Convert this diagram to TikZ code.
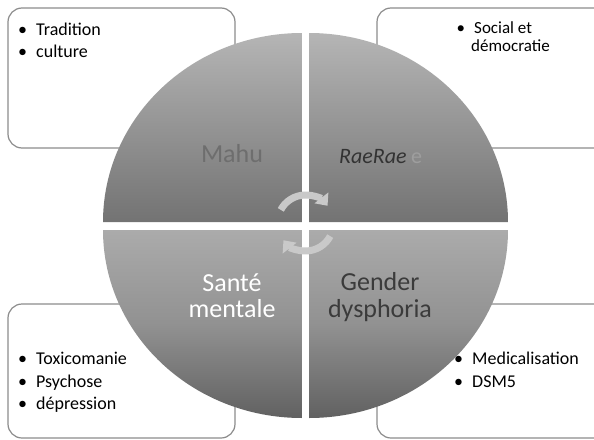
\documentclass[tikz,border=0pt]{standalone}
\usepackage{fontspec}
\setmainfont{Carlito}
\usetikzlibrary{arrows.meta}

\definecolor{boxline}{gray}{0.55}
\definecolor{uptop}{gray}{0.71}
\definecolor{upmid}{gray}{0.58}
\definecolor{upbot}{gray}{0.45}
\definecolor{lotop}{gray}{0.67}
\definecolor{lomid}{gray}{0.57}
\definecolor{lobot}{gray}{0.38}
\definecolor{arrowgray}{gray}{0.79}
\definecolor{mahutext}{gray}{0.43}
\definecolor{gendertext}{gray}{0.23}

\tikzset{
  box/.style={draw=boxline, line width=1.2pt, fill=white, rounded corners=14pt},
  quadup/.style={top color=uptop, bottom color=upbot, middle color=upmid},
  quadlo/.style={top color=lotop, bottom color=lobot, middle color=lomid},
  item/.style={anchor=base west, inner sep=0pt, font=\fontsize{18}{22}\selectfont},
  small item/.style={anchor=base west, inner sep=0pt, font=\fontsize{17}{18}\selectfont},
  big/.style={anchor=base, inner sep=0pt, font=\fontsize{26}{26}\selectfont},
  cyc/.style={draw=arrowgray, line width=7pt, -{Triangle[length=10pt,width=17pt]}}
}
\newcommand{\bul}{\llap{\textbullet\hspace{9pt}}}

\begin{document}
\begin{tikzpicture}[x=1pt,y=-1pt]
  \useasboundingbox[fill=white] (0,0) rectangle (594,439);
  \clip (0,0) rectangle (594,439);

  % boxes behind the circle
  \draw[box] (8,8) rectangle (235,148);
  \draw[box] (377,8) rectangle (610,148);
  \draw[box] (8,304) rectangle (235,438);
  \draw[box] (377,304) rectangle (610,438);

  % the four quarters
  \shade[quadup] (302,222) -- (103,222) arc[start angle=180, end angle=270, x radius=199, y radius=189] -- cycle;
  \shade[quadup] (309,222) -- (309,33) arc[start angle=270, end angle=360, x radius=199, y radius=189] -- cycle;
  \shade[quadlo] (302,230) -- (103,230) arc[start angle=180, end angle=90, x radius=199, y radius=188] -- cycle;
  \shade[quadlo] (309,230) -- (508,230) arc[start angle=0, end angle=90, x radius=199, y radius=188] -- cycle;

  % circular arrows
  \coordinate (c) at (305.5,223);
  \draw[cyc] (c) ++(208:28) arc[start angle=208, end angle=322, radius=28];
  \draw[cyc] (c) ++(28:28) arc[start angle=28, end angle=142, radius=28];

  % quarter labels
  \node[big, text=mahutext] (mahu) at (232,162) {Mahu};
  \node[big, anchor=base west, font=\fontsize{22}{22}\selectfont\itshape, text=black!80] (raerae) at (339,163) {RaeRae};
  \node[big, anchor=base west, font=\fontsize{22}{22}\selectfont, text=black!38] (faint) at (411,163) {e};
  \node[big, text=white] (sante) at (232,291) {Santé};
  \node[big, text=white] (mentale) at (232,317) {mentale};
  \node[big, text=gendertext] (gender) at (380,290) {Gender};
  \node[big, text=gendertext] (dysph) at (380,317) {dysphoria};

  % box contents
  \node[item] (trad) at (36,35) {\bul Tradition};
  \node[item] (cult) at (36,57) {\bul culture};
  \node[small item] (social) at (474,33) {\bul Social et};
  \node[small item] (democ) at (471,51) {démocratie};
  \node[item] (toxi) at (36,364) {\bul Toxicomanie};
  \node[item] (psych) at (36,387) {\bul Psychose};
  \node[item] (depr) at (36,409) {\bul dépression};
  \node[item] (medic) at (472,364) {\bul Medicalisation};
  \node[item] (dsm) at (472,387) {\bul DSM5};
\end{tikzpicture}
\end{document}
